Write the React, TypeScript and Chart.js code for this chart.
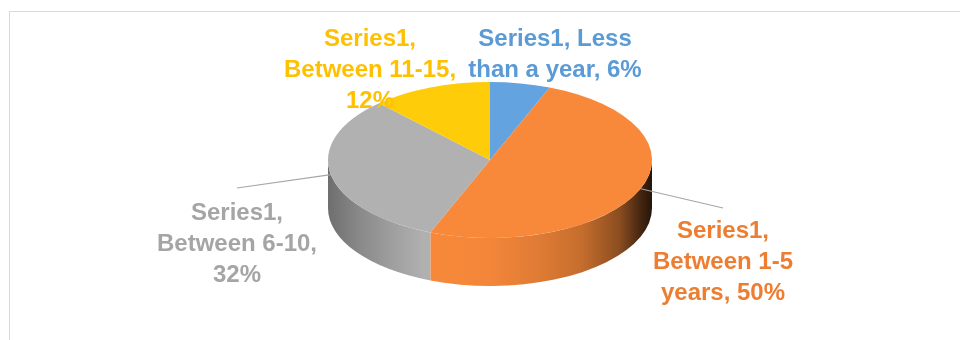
import React, { useEffect, useRef } from "react";
import { Chart, registerables } from "chart.js";

Chart.register(...registerables);

// ---- data ----
const seriesName = "Series1";
const categories = ["Less than a year", "Between 1-5 years", "Between 6-10", "Between 11-15"];
const values = [6, 50, 32, 12];
const faceColors = ["#63A4E0", "#F8893A", "#B1B1B1", "#FFCC0A"];
const textColors = ["#5B9BD5", "#ED7D31", "#A5A5A5", "#FFC000"];
// words per label line
const lineWords = [[2, 4], [1, 2, 2], [1, 2, 1], [1, 2, 1]];

// ---- layout ----
const CX = 490;
const CY = 160;
const RX = 162;
const RY = 78;
const DEPTH = 48;
const LABEL_POS = [
  { x: 555, y: 37 },
  { x: 723, y: 229 },
  { x: 237, y: 211 },
  { x: 370, y: 37 },
];
const LEADER_END: ({ x: number; y: number } | null)[] = [null, { x: 723, y: 208 }, { x: 237, y: 188 }, null];
const LINE_H = 31;
const FONT = 'bold 24px "Liberation Sans", Arial, sans-serif';
const SHADE: [number, number][] = [
  [0, 0.62], [0.1, 0.78], [0.2, 0.9], [0.3, 1.0], [0.5, 0.98], [0.65, 0.9],
  [0.78, 0.8], [0.9, 0.56], [0.96, 0.3], [1, 0.15],
];

function shade(hex: string, f: number) {
  const n = parseInt(hex.slice(1), 16);
  const r = Math.round(((n >> 16) & 255) * f);
  const g = Math.round(((n >> 8) & 255) * f);
  const b = Math.round((n & 255) * f);
  return `rgb(${r},${g},${b})`;
}

const pie3d = {
  id: "pie3d",
  beforeDraw(chart: any) {
    const ctx = chart.ctx;
    ctx.save();
    ctx.fillStyle = "#ffffff";
    ctx.fillRect(0, 0, chart.width, chart.height);
    ctx.strokeStyle = "#d9d9d9";
    ctx.lineWidth = 1;
    ctx.beginPath();
    ctx.moveTo(9.5, chart.height);
    ctx.lineTo(9.5, 11.5);
    ctx.lineTo(chart.width, 11.5);
    ctx.stroke();
    ctx.restore();
  },
  beforeDatasetsDraw(chart: any) {
    const ctx = chart.ctx;
    const arcs = chart.getDatasetMeta(0).data;
    arcs.forEach((arc: any, i: number) => {
      const { startAngle, endAngle } = arc.getProps(["startAngle", "endAngle"], true);
      const a = Math.max(startAngle, 0);
      const b = Math.min(endAngle, Math.PI);
      if (b <= a) return;
      const g = ctx.createLinearGradient(CX - RX, 0, CX + RX, 0);
      SHADE.forEach(([t, f]) => g.addColorStop(t, shade(faceColors[i], f)));
      ctx.beginPath();
      ctx.ellipse(CX, CY, RX, RY, 0, a, b);
      ctx.ellipse(CX, CY + DEPTH, RX, RY, 0, b, a, true);
      ctx.closePath();
      ctx.fillStyle = g;
      ctx.fill();
    });
    const a0 = arcs[0];
    const r = a0.outerRadius;
    ctx.save();
    ctx.translate(CX, CY);
    ctx.scale(RX / r, RY / r);
    ctx.translate(-a0.x, -a0.y);
  },
  afterDatasetsDraw(chart: any) {
    const ctx = chart.ctx;
    ctx.restore();
    const arcs = chart.getDatasetMeta(0).data;
    const total = values.reduce((s, v) => s + v, 0);
    ctx.save();
    arcs.forEach((arc: any, i: number) => {
      const { startAngle, endAngle } = arc.getProps(["startAngle", "endAngle"], true);
      const mid = (startAngle + endAngle) / 2;
      const end = LEADER_END[i];
      if (end) {
        ctx.strokeStyle = "#a6a6a6";
        ctx.lineWidth = 1.2;
        ctx.beginPath();
        ctx.moveTo(end.x, end.y);
        ctx.lineTo(CX + RX * Math.cos(mid), CY + RY * Math.sin(mid));
        ctx.stroke();
      }
      const pct = Math.round((values[i] / total) * 100);
      const words = `${seriesName}, ${categories[i]}, ${pct}%`.split(" ");
      const lines: string[] = [];
      let k = 0;
      lineWords[i].forEach((n) => {
        lines.push(words.slice(k, k + n).join(" "));
        k += n;
      });
      ctx.font = FONT;
      ctx.fillStyle = textColors[i];
      ctx.textAlign = "center";
      ctx.textBaseline = "alphabetic";
      lines.forEach((ln, j) => {
        ctx.fillText(ln, LABEL_POS[i].x, LABEL_POS[i].y + j * LINE_H + 8.5);
      });
    });
    ctx.restore();
  },
};

export default function App() {
  const ref = useRef<HTMLCanvasElement | null>(null);
  useEffect(() => {
    if (!ref.current) return;
    const chart = new Chart(ref.current, {
      type: "pie",
      data: {
        labels: categories,
        datasets: [
          {
            label: seriesName,
            data: values,
            backgroundColor: faceColors,
            borderWidth: 0,
            clip: false as any,
          },
        ],
      },
      options: {
        responsive: true,
        maintainAspectRatio: false,
        animation: false,
        events: [],
        plugins: { legend: { display: false }, tooltip: { enabled: false } },
      },
      plugins: [pie3d],
    });
    return () => chart.destroy();
  }, []);
  return (
    <div style={{ position: "fixed", left: 0, top: 0, width: 960, height: 340, background: "#fff" }}>
      <canvas ref={ref} />
    </div>
  );
}
